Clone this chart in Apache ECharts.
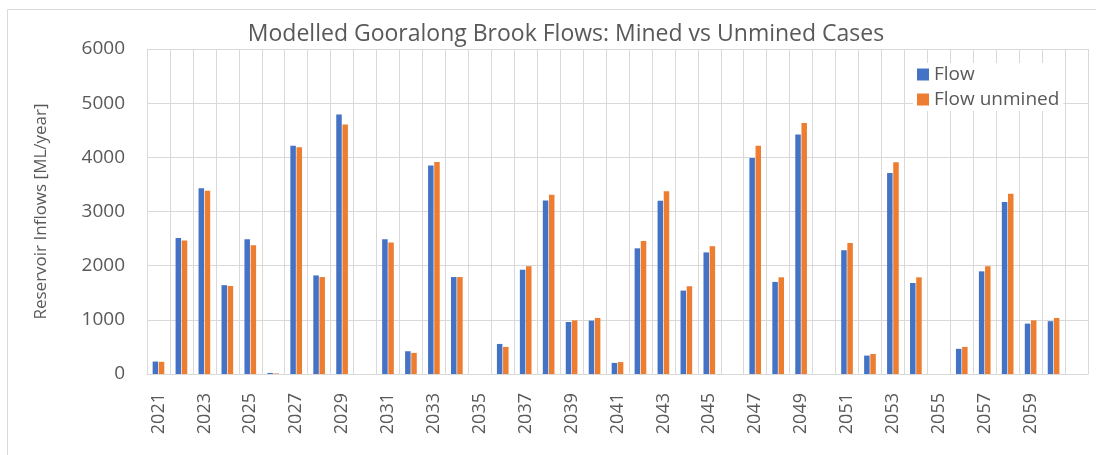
<!DOCTYPE html>
<html>
<head>
<meta charset="utf-8">
<script src="https://cdn.jsdelivr.net/npm/echarts@6/dist/echarts.min.js"></script>
<style>
html,body{margin:0;padding:0;background:#fff;}
#chart{width:1096px;height:455px;}
</style>
</head>
<body>
<div id="chart"></div>
<script>
const years = ['2021','2022','2023','2024','2025','2026','2027','2028','2029','2030',
  '2031','2032','2033','2034','2035','2036','2037','2038','2039','2040',
  '2041','2042','2043','2044','2045','2046','2047','2048','2049','2050',
  '2051','2052','2053','2054','2055','2056','2057','2058','2059','2060',''];
const flow = [230,2510,3430,1640,2490,20,4215,1820,4790,0,
  2490,420,3850,1790,0,555,1925,3205,960,985,
  205,2320,3200,1540,2245,0,3990,1700,4420,0,
  2285,340,3710,1680,0,465,1895,3175,930,975,null];
const flowUnmined = [225,2465,3385,1625,2375,10,4185,1790,4605,0,
  2430,390,3915,1790,0,500,1990,3310,990,1035,
  220,2455,3375,1620,2360,0,4215,1785,4635,0,
  2420,370,3910,1785,0,500,1990,3330,990,1035,null];
const yTicks = {min:0, max:6000, step:1000};
const seriesNames = ['Flow','Flow unmined'];

const txt = '#595959';
const grid = '#d9d9d9';
const font = 'Open Sans';

const chart = echarts.init(document.getElementById('chart'));
chart.setOption({
  animation:false,
  backgroundColor:'#fff',
  textStyle:{fontFamily:font},
  title:{
    text:'Modelled Gooralong Brook Flows: Mined vs Unmined Cases',
    left:561, top:18, textAlign:'center',
    textStyle:{color:txt, fontSize:23, fontWeight:'normal', fontFamily:font}
  },
  graphic:[{
    type:'rect', left:5, top:7, z:-10, silent:true,
    shape:{width:1200, height:600},
    style:{fill:'none', stroke:grid, lineWidth:1}
  }],
  legend:{
    orient:'vertical', left:913, top:63,
    itemWidth:12, itemHeight:12, itemGap:6,
    backgroundColor:'#fff', padding:[2,4,2,4],
    icon:'rect',
    textStyle:{color:txt, fontSize:19, fontFamily:font},
    data:seriesNames
  },
  grid:{left:147, right:8, top:49, bottom:81, containLabel:false},
  xAxis:{
    type:'category', data:years,
    axisLine:{lineStyle:{color:grid}},
    axisTick:{show:false},
    axisLabel:{interval:1, rotate:90, color:txt, fontSize:18, margin:19, fontFamily:font},
    splitLine:{show:true, interval:0, lineStyle:{color:grid}}
  },
  yAxis:{
    type:'value', min:yTicks.min, max:yTicks.max, interval:yTicks.step,
    name:'Reservoir Inflows [ML/year]', nameLocation:'middle', nameGap:97, nameRotate:90,
    nameTextStyle:{color:txt, fontSize:17, fontFamily:font},
    axisLine:{show:false}, axisTick:{show:false},
    axisLabel:{color:txt, fontSize:19, margin:22, fontFamily:font, formatter:(v)=>String(v)},
    splitLine:{lineStyle:{color:grid}}
  },
  series:[
    {name:seriesNames[0], type:'bar', data:flow, barWidth:5.5, barGap:'12%', itemStyle:{color:'#4472C4'}},
    {name:seriesNames[1], type:'bar', data:flowUnmined, barWidth:5.5, barGap:'12%', itemStyle:{color:'#ED7D31'}}
  ]
});
</script>
</body>
</html>
